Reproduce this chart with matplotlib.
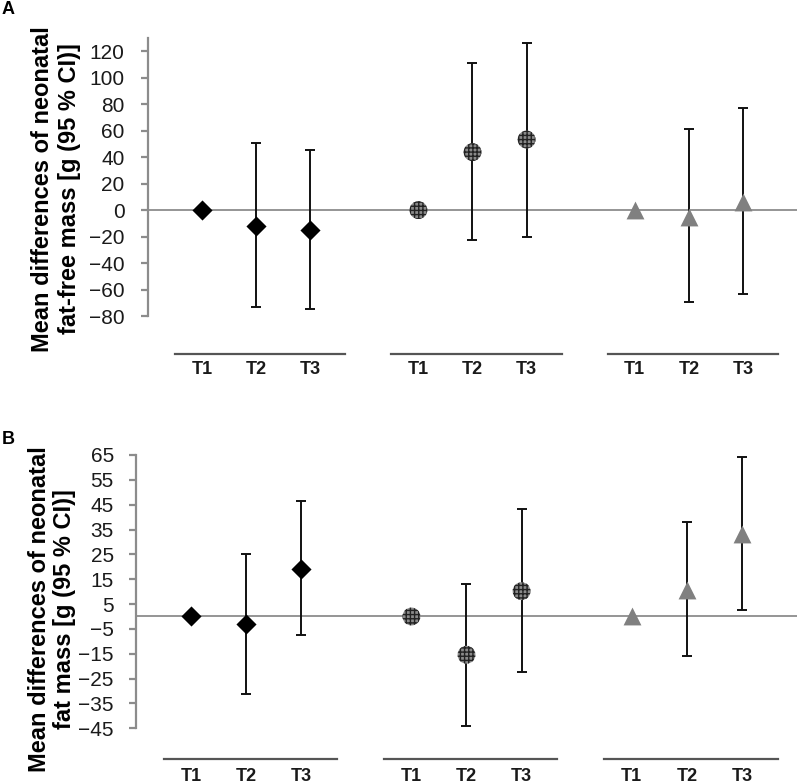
import matplotlib
matplotlib.use('Agg')
import matplotlib.pyplot as plt
import matplotlib.transforms as mtransforms
import numpy as np

plt.rcParams['font.family'] = ['Liberation Sans', 'DejaVu Sans']

timepoints = ['T1', 'T2', 'T3']

# panel A: fat-free mass, three groups (mean, lower CI, upper CI)
ffm_mean = [[0, -11.8, -15.0], [0, 43.8, 53.3], [0, -5.0, 6.2]]
ffm_low = [[np.nan, -73.5, -74.5], [np.nan, -22.5, -20.0], [np.nan, -69.7, -63.7]]
ffm_high = [[np.nan, 50.5, 45.7], [np.nan, 111.0, 126.3], [np.nan, 61.2, 77.5]]
ffm_ticks = list(range(-80, 121, 20))

# panel B: fat mass
fm_mean = [[0, -3.2, 19.2], [0, -15.4, 10.2], [0, 10.5, 33.3]]
fm_low = [[np.nan, -31.1, -7.4], [np.nan, -44.0, -22.5], [np.nan, -16.1, 2.8]]
fm_high = [[np.nan, 25.2, 46.3], [np.nan, 13.2, 43.1], [np.nan, 37.9, 64.1]]
fm_ticks = list(range(-45, 66, 10))

marker_styles = [
    dict(marker='D', s=105, facecolor='black', edgecolor='black', linewidths=0),
    dict(marker='o', s=165, facecolor='#8a8a8a', edgecolor='#222222', linewidths=0, hatch='++++'),
    dict(marker='^', s=165, facecolor='#808080', edgecolor='#808080', linewidths=0),
]


def draw_panel(ax, means, lows, highs, ticks, ylim, line_y, lab_y, pad):
    trans = mtransforms.blended_transform_factory(ax.transData, ax.transAxes)
    for g in range(3):
        x = np.arange(3) + 4 * g
        m = np.array(means[g], dtype=float)
        lo = np.array(lows[g], dtype=float)
        hi = np.array(highs[g], dtype=float)
        err = np.vstack([m - lo, hi - m])
        ax.errorbar(x, m, yerr=err, fmt='none', ecolor='#111111', elinewidth=1.4,
                    capsize=3.5, capthick=1.4, zorder=3)
        ax.scatter(x, m, zorder=4, **marker_styles[g])

        ax.plot([x[0] - 0.5, x[-1] + 0.65], [line_y, line_y], color='#555555', lw=1.6,
                transform=trans, clip_on=False)
        for xi, t in zip(x, timepoints):
            ax.text(xi, lab_y, t, transform=trans, ha='center', va='center',
                    fontsize=13, fontweight='bold', color='#1a1a1a')

    ax.axhline(0, color='#8c8c8c', lw=1.3, zorder=1)
    ax.set_xlim(-1, 11)
    ax.set_ylim(*ylim)
    ax.set_yticks(ticks)
    ax.set_xticks([])
    for side in ['top', 'right', 'bottom']:
        ax.spines[side].set_visible(False)
    ax.spines['left'].set_color('#8c8c8c')
    ax.spines['left'].set_linewidth(1.6)
    ax.tick_params(axis='y', direction='out', length=5, width=1.6, color='#8c8c8c',
                   labelsize=15, labelcolor='#1a1a1a', pad=pad)


fig = plt.figure(figsize=(7.98, 7.84), dpi=100)
ax_a = fig.add_axes([148 / 798, 1 - 316 / 784, 649 / 798, 278 / 784])
ax_b = fig.add_axes([136 / 798, 1 - 728.3 / 784, 661 / 798, 273.3 / 784])

draw_panel(ax_a, ffm_mean, ffm_low, ffm_high, ffm_ticks, (-80, 130), -0.137, -0.194, 12)
draw_panel(ax_b, fm_mean, fm_low, fm_high, fm_ticks, (-45, 65), -0.113, -0.178, 11)

fig.text(56 / 798, 1 - 189 / 784, 'Mean differences of neonatal\nfat-free mass [g (95 % CI)]',
         rotation=90, ha='center', va='center', multialignment='center',
         fontsize=17, fontweight='bold', linespacing=1.25)
fig.text(52 / 798, 1 - 609 / 784, 'Mean differences of neonatal\nfat mass [g (95 % CI)]',
         rotation=90, ha='center', va='center', multialignment='center',
         fontsize=17, fontweight='bold', linespacing=1.15)

fig.text(2 / 798, 1 - 10 / 784, 'A', fontsize=13, fontweight='bold', va='center', ha='left')
fig.text(2 / 798, 1 - 440 / 784, 'B', fontsize=13, fontweight='bold', va='center', ha='left')

fig.savefig('out.png', dpi=100)
